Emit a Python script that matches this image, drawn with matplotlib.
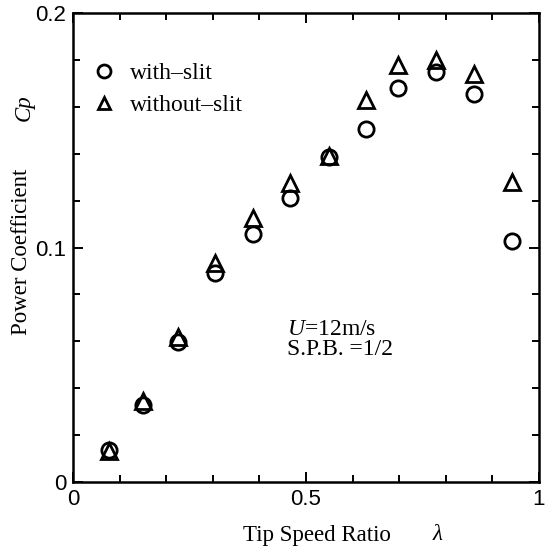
import matplotlib
matplotlib.use("Agg")
import matplotlib.pyplot as plt
from matplotlib.ticker import MultipleLocator, FixedLocator

# Data
tsr = [0.078, 0.150, 0.226, 0.305, 0.386, 0.466, 0.549, 0.629, 0.697, 0.779, 0.861, 0.942]
cp_with_slit = [0.0136, 0.0328, 0.0597, 0.0891, 0.1058, 0.1210, 0.1386, 0.1505, 0.1680, 0.1750, 0.1655, 0.1028]
cp_without_slit = [0.0134, 0.0345, 0.0618, 0.0934, 0.1126, 0.1275, 0.1390, 0.1630, 0.1780, 0.1800, 0.1740, 0.1280]

x_ticks = [0, 0.5, 1]
x_ticklabels = ["0", "0.5", "1"]
y_ticks = [0, 0.1, 0.2]
y_ticklabels = ["0", "0.1", "0.2"]

serif = "Liberation Serif"
sans = "Liberation Sans"

plt.rcParams["mathtext.fontset"] = "custom"
plt.rcParams["mathtext.it"] = "Liberation Serif:italic"
plt.rcParams["mathtext.rm"] = "Liberation Serif"

fig = plt.figure(figsize=(5.47, 5.48), dpi=100)
ax = fig.add_axes([73/547, 1-482/548, (539-73)/547, (482-13)/548])

ax.plot(tsr, cp_with_slit, linestyle="none", marker="o", markersize=11,
        markerfacecolor="none", markeredgecolor="black", markeredgewidth=2.0,
        label="with\u2013slit")
ax.plot(tsr, cp_without_slit, linestyle="none", marker="^", markersize=11,
        markerfacecolor="none", markeredgecolor="black", markeredgewidth=2.0,
        label="without\u2013slit")

ax.set_xlim(0, 1)
ax.set_ylim(0, 0.2)
ax.xaxis.set_major_locator(FixedLocator(x_ticks))
ax.set_xticklabels(x_ticklabels)
ax.xaxis.set_minor_locator(MultipleLocator(0.1))
ax.yaxis.set_major_locator(FixedLocator(y_ticks))
ax.set_yticklabels(y_ticklabels)
ax.yaxis.set_minor_locator(MultipleLocator(0.02))

ax.tick_params(which="both", direction="in", top=True, right=True, width=1.4)
ax.tick_params(which="major", length=7, labelsize=16, pad=5)
ax.tick_params(which="minor", length=5)
for lab in ax.get_xticklabels() + ax.get_yticklabels():
    lab.set_fontfamily(sans)
for s in ax.spines.values():
    s.set_linewidth(1.8)

leg = ax.legend(loc="upper left", bbox_to_anchor=(0.0, 0.935), frameon=False,
                prop={"family": serif, "size": 17}, handlelength=1.0,
                handletextpad=0.6, labelspacing=0.45, borderaxespad=0.4,
                markerscale=0.85)

ax.text(0.459, 0.325, "$U$=12m/s", transform=ax.transAxes,
        fontsize=17, family=serif, va="center", ha="left")
ax.text(0.459, 0.282, "S.P.B. =1/2", transform=ax.transAxes,
        fontsize=17, family=serif, va="center", ha="left")

fig.text(22/547, 1-252/548, "Power Coefficient", rotation=90, family=serif,
         fontsize=16.5, ha="center", va="center")
fig.text(24/547, 1-108/548, "Cp", rotation=90, family=serif, style="italic",
         fontsize=16.5, ha="center", va="center")
fig.text(317/547, 1-535/548, "Tip Speed Ratio", family=serif,
         fontsize=16.5, ha="center", va="center")
fig.text(437/547, 1-535/548, "\u03bb", family=serif, style="italic",
         fontsize=16.5, ha="center", va="center")

fig.savefig("out.png", dpi=100)
